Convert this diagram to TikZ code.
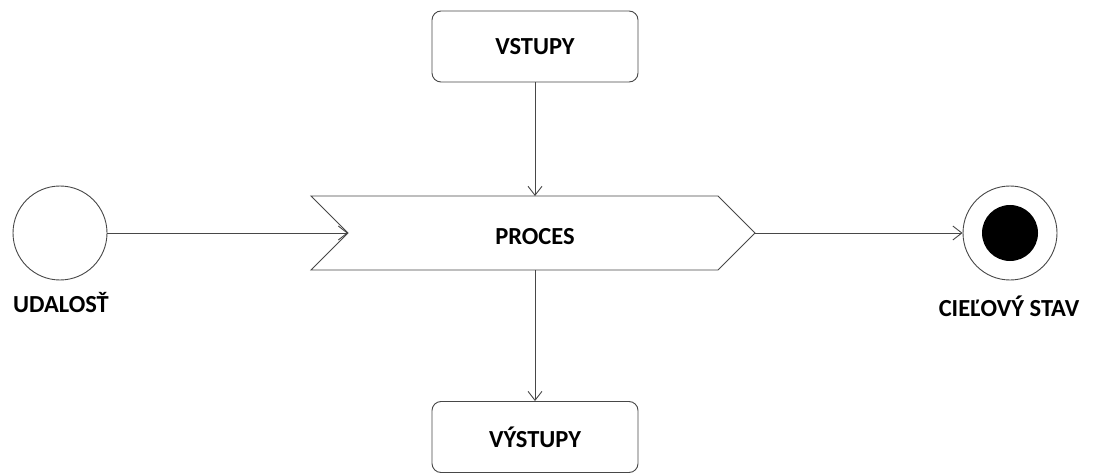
\documentclass[tikz,border=0pt]{standalone}
\usepackage{fontspec}
\setmainfont{Carlito}
\usetikzlibrary{arrows.meta}
\definecolor{linec}{gray}{0.28}
\tikzset{
  lbl/.style={font=\fontsize{24.5}{28}\selectfont\bfseries, text=black, inner sep=0pt},
  box/.style={draw=linec, line width=0.9pt, rounded corners=9pt, minimum width=206pt, minimum height=71pt, fill=white, lbl},
  conn/.style={draw=linec, line width=0.9pt, -{Straight Barb[length=9pt,width=14pt,line width=0.9pt]}},
  evt/.style={circle, draw=linec, line width=0.9pt, minimum size=94pt, inner sep=0pt}
}
\begin{document}
\begin{tikzpicture}[x=1pt,y=-1pt]
\useasboundingbox (0,0) rectangle (1097,473);
% input / output boxes
\node[box] (in) at (535,46.5) {VSTUPY};
\node[box] (out) at (535,437) {VÝSTUPY};
% process chevron
\coordinate (tl) at (311,196);
\coordinate (tr) at (718,196);
\coordinate (tip) at (755,233);
\coordinate (br) at (718,270);
\coordinate (bl) at (311,270);
\coordinate (notch) at (348,233);
\coordinate (ptop) at (535,196);
\coordinate (pbot) at (535,270);
\draw[linec, line width=0.9pt, fill=white] (tl) -- (tr) -- (tip) -- (br) -- (bl) -- (notch) -- cycle;
\node[lbl] (proc) at (535,237) {PROCES};
% event and goal
\node[evt] (ev) at (60,233) {};
\node[lbl] (evl) at (61,303) {UDALOSŤ};
\node[evt] (goal) at (1010,233) {};
\fill[black] (goal.center) circle (28);
\node[lbl] (goall) at (1009,306) {CIEĽOVÝ STAV};
% connectors
\draw[conn] (ev.east) -- (notch);
\draw[conn] (tip) -- (goal.west);
\draw[conn] (in.south) -- (ptop);
\draw[conn] (pbot) -- (out.north);
\end{tikzpicture}
\end{document}
